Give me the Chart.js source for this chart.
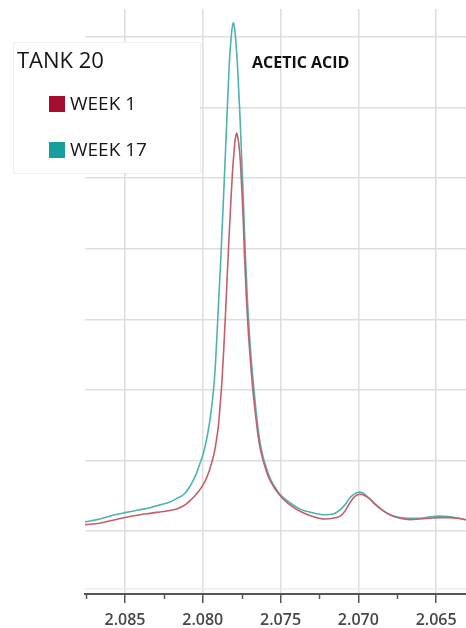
<!DOCTYPE html>
<html>
<head>
<meta charset="utf-8">
<script src="https://cdn.jsdelivr.net/npm/chart.js@4"></script>
<style>
  html, body { margin: 0; padding: 0; background: #fff; }
  #wrap { position: relative; width: 466px; height: 628px; }
</style>
</head>
<body>
<div id="wrap"><canvas id="nmr"></canvas></div>
<script>
// 1H NMR spectrum, acetic acid region (chemical shift in ppm, relative intensity)
const legendTitle = 'TANK 20';
const seriesLabels = ['WEEK 1', 'WEEK 17'];
const peakLabel = 'ACETIC ACID';

const ppmWeek1 = [2.08757, 2.08661, 2.08564, 2.08500, 2.08404, 2.08339, 2.08275, 2.08211, 2.08159, 2.08114,
  2.08082, 2.08050, 2.08024, 2.07999, 2.07976, 2.07957, 2.07941, 2.07925, 2.07912, 2.07899,
  2.07888, 2.07877, 2.07866, 2.07855, 2.07844, 2.07832, 2.07819, 2.07808, 2.07799, 2.07792,
  2.07786, 2.07782, 2.07778, 2.07771, 2.07763, 2.07756, 2.07748, 2.07740, 2.07732, 2.07719,
  2.07706, 2.07693, 2.07681, 2.07664, 2.07645, 2.07626, 2.07600, 2.07575, 2.07542, 2.07510,
  2.07472, 2.07427, 2.07375, 2.07298, 2.07215, 2.07163, 2.07118, 2.07086, 2.07054, 2.07022,
  2.06990, 2.06958, 2.06925, 2.06893, 2.06848, 2.06797, 2.06733, 2.06668, 2.06604, 2.06540,
  2.06475, 2.06411, 2.06360, 2.06308];
const intWeek1 = [0.09, 0.11, 0.16, 0.19, 0.23, 0.25, 0.27, 0.29, 0.32, 0.37,
  0.43, 0.50, 0.57, 0.65, 0.75, 0.86, 0.98, 1.12, 1.29, 1.50,
  1.79, 2.11, 2.54, 3.02, 3.56, 4.12, 4.69, 5.12, 5.37, 5.54,
  5.61, 5.64, 5.61, 5.53, 5.37, 5.14, 4.80, 4.41, 3.91, 3.27,
  2.78, 2.39, 2.07, 1.71, 1.36, 1.12, 0.91, 0.75, 0.62, 0.52,
  0.43, 0.35, 0.28, 0.21, 0.17, 0.18, 0.21, 0.28, 0.40, 0.49,
  0.52, 0.50, 0.45, 0.38, 0.30, 0.23, 0.18, 0.16, 0.17, 0.18,
  0.19, 0.19, 0.18, 0.16];

const ppmWeek17 = [2.08757, 2.08661, 2.08564, 2.08500, 2.08404, 2.08339, 2.08275, 2.08211, 2.08159, 2.08121,
  2.08089, 2.08063, 2.08040, 2.08021, 2.08002, 2.07986, 2.07970, 2.07954, 2.07941, 2.07928,
  2.07918, 2.07907, 2.07896, 2.07883, 2.07864, 2.07844, 2.07830, 2.07817, 2.07809, 2.07804,
  2.07798, 2.07790, 2.07777, 2.07761, 2.07742, 2.07726, 2.07713, 2.07700, 2.07687, 2.07674,
  2.07658, 2.07639, 2.07620, 2.07594, 2.07568, 2.07536, 2.07504, 2.07440, 2.07375, 2.07298,
  2.07215, 2.07163, 2.07118, 2.07086, 2.07054, 2.07022, 2.06990, 2.06958, 2.06925, 2.06893,
  2.06848, 2.06797, 2.06733, 2.06668, 2.06604, 2.06540, 2.06475, 2.06411, 2.06360, 2.06308];
const intWeek17 = [0.13, 0.17, 0.23, 0.26, 0.30, 0.33, 0.37, 0.41, 0.47, 0.52,
  0.61, 0.71, 0.82, 0.94, 1.06, 1.19, 1.36, 1.57, 1.79, 2.07,
  2.39, 2.85, 3.34, 3.91, 4.86, 5.89, 6.60, 7.01, 7.16, 7.20,
  7.16, 7.01, 6.60, 5.89, 4.86, 3.91, 3.27, 2.78, 2.39, 2.07,
  1.71, 1.36, 1.12, 0.91, 0.75, 0.62, 0.52, 0.40, 0.31, 0.26,
  0.23, 0.24, 0.30, 0.37, 0.47, 0.53, 0.55, 0.52, 0.45, 0.38,
  0.30, 0.23, 0.19, 0.18, 0.18, 0.20, 0.21, 0.20, 0.18, 0.16];

const majorTicks = [2.085, 2.080, 2.075, 2.070, 2.065];
const minorTicks = [2.0875, 2.0825, 2.0775, 2.0725, 2.0675];
const yGridLevels = [-0.82, 0, 1, 2, 3, 4, 5, 6, 7];
const xRange = [2.06308, 2.08757];
const yRange = [-0.893, 7.397];
const peakLabelAt = [2.07684, 6.63];

const lineColors = ['#c4606b', '#50b3b0'];
const swatchColors = ['#a50e2d', '#16a09c'];

const toPoints = (xs, ys) => xs.map((x, i) => ({ x, y: ys[i] }));

const overlay = {
  id: 'overlay',
  afterDraw(chart) {
    const ctx = chart.ctx;
    const xs = chart.scales.x, ys = chart.scales.y;
    ctx.save();

    // minor ticks below the axis line
    ctx.strokeStyle = '#555';
    ctx.lineWidth = 1.5;
    minorTicks.forEach(v => {
      const px = Math.round(xs.getPixelForValue(v)) + 0.5;
      ctx.beginPath();
      ctx.moveTo(px, xs.top);
      ctx.lineTo(px, xs.top + 5);
      ctx.stroke();
    });

    // peak annotation
    ctx.fillStyle = '#111';
    ctx.font = 'bold 16px "Open Sans"';
    ctx.textAlign = 'left';
    ctx.textBaseline = 'middle';
    ctx.fillText(peakLabel, xs.getPixelForValue(peakLabelAt[0]), ys.getPixelForValue(peakLabelAt[1]));

    // legend box
    ctx.fillStyle = '#fff';
    ctx.fillRect(13, 42, 187, 131);
    ctx.strokeStyle = 'rgba(0,0,0,0.06)';
    ctx.lineWidth = 1;
    ctx.strokeRect(13.5, 42.5, 187, 131);

    ctx.fillStyle = '#161616';
    ctx.font = '500 22px "Open Sans"';
    ctx.fillText(legendTitle, 17, 62);

    chart.data.datasets.forEach((ds, i) => {
      const top = 96 + i * 46;
      ctx.fillStyle = ds.swatch;
      ctx.fillRect(49, top, 16, 16);
      ctx.fillStyle = '#161616';
      ctx.font = '500 19px "Open Sans"';
      ctx.fillText(ds.label, 70, top + 9);
    });
    ctx.restore();
  }
};

new Chart(document.getElementById('nmr'), {
  type: 'line',
  data: {
    datasets: [
      { label: seriesLabels[0], data: toPoints(ppmWeek1, intWeek1), borderColor: lineColors[0], swatch: swatchColors[0] },
      { label: seriesLabels[1], data: toPoints(ppmWeek17, intWeek17), borderColor: lineColors[1], swatch: swatchColors[1] }
    ]
  },
  options: {
    responsive: true,
    maintainAspectRatio: false,
    animation: false,
    layout: { padding: { left: 85, top: 9, right: 0, bottom: 0 } },
    elements: {
      line: { borderWidth: 1.6, cubicInterpolationMode: 'monotone', fill: false },
      point: { radius: 0, hoverRadius: 0 }
    },
    plugins: { legend: { display: false }, tooltip: { enabled: false } },
    scales: {
      x: {
        type: 'linear',
        reverse: true,
        min: xRange[0],
        max: xRange[1],
        afterBuildTicks: s => { s.ticks = majorTicks.map(v => ({ value: v })); },
        afterFit: s => { s.height = 34; },
        ticks: {
          autoSkip: false,
          maxRotation: 0,
          padding: 8,
          color: '#474747',
          font: { family: 'Open Sans', size: 16, weight: '600' },
          callback: v => Number(v).toFixed(3)
        },
        grid: { color: '#dedede', lineWidth: 1.5, tickLength: 9, tickColor: '#555', tickWidth: 1.5 },
        border: { color: '#555', width: 2 }
      },
      y: {
        type: 'linear',
        min: yRange[0],
        max: yRange[1],
        afterBuildTicks: s => { s.ticks = yGridLevels.map(v => ({ value: v })); },
        afterFit: s => { s.width = 0; },
        ticks: { display: false },
        grid: {
          color: c => (c.tick && c.tick.value < 0) ? '#ececec' : '#dedede',
          lineWidth: 1.5,
          drawTicks: false
        },
        border: { display: false }
      }
    }
  },
  plugins: [overlay]
});
</script>
</body>
</html>
